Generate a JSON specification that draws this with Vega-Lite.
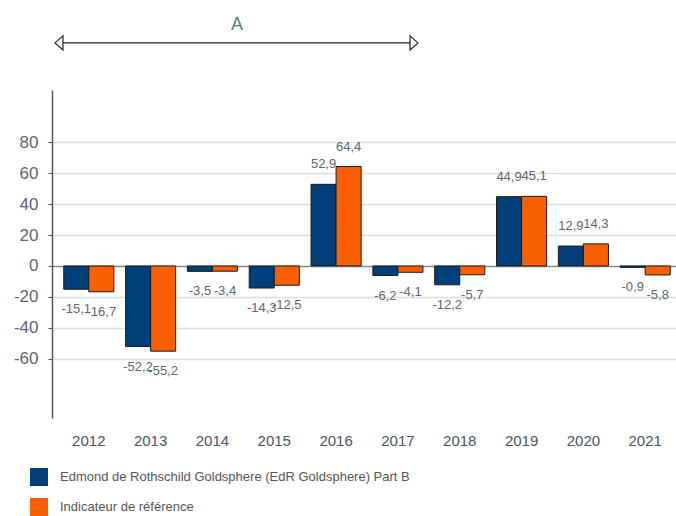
{
  "$schema": "https://vega.github.io/schema/vega-lite/v6.json",
  "width": 630,
  "height": 328,
  "autosize": {"type": "none"},
  "padding": {"left": 52, "top": 90, "right": 0, "bottom": 98},
  "background": "white",
  "config": {
    "view": {"stroke": null},
    "locale": {"number": {"decimal": ",", "thousands": " ", "grouping": [3], "currency": ["", " €"], "minus": "-"}},
    "font": "Liberation Sans"
  },
  "layer": [
    {
      "data": {"values": [
        {"year": "2012", "series": "Edmond de Rothschild Goldsphere (EdR Goldsphere) Part B", "value": -15.1},
        {"year": "2012", "series": "Indicateur de référence", "value": -16.7},
        {"year": "2013", "series": "Edmond de Rothschild Goldsphere (EdR Goldsphere) Part B", "value": -52.2},
        {"year": "2013", "series": "Indicateur de référence", "value": -55.2},
        {"year": "2014", "series": "Edmond de Rothschild Goldsphere (EdR Goldsphere) Part B", "value": -3.5},
        {"year": "2014", "series": "Indicateur de référence", "value": -3.4},
        {"year": "2015", "series": "Edmond de Rothschild Goldsphere (EdR Goldsphere) Part B", "value": -14.3},
        {"year": "2015", "series": "Indicateur de référence", "value": -12.5},
        {"year": "2016", "series": "Edmond de Rothschild Goldsphere (EdR Goldsphere) Part B", "value": 52.9},
        {"year": "2016", "series": "Indicateur de référence", "value": 64.4},
        {"year": "2017", "series": "Edmond de Rothschild Goldsphere (EdR Goldsphere) Part B", "value": -6.2},
        {"year": "2017", "series": "Indicateur de référence", "value": -4.1},
        {"year": "2018", "series": "Edmond de Rothschild Goldsphere (EdR Goldsphere) Part B", "value": -12.2},
        {"year": "2018", "series": "Indicateur de référence", "value": -5.7},
        {"year": "2019", "series": "Edmond de Rothschild Goldsphere (EdR Goldsphere) Part B", "value": 44.9},
        {"year": "2019", "series": "Indicateur de référence", "value": 45.1},
        {"year": "2020", "series": "Edmond de Rothschild Goldsphere (EdR Goldsphere) Part B", "value": 12.9},
        {"year": "2020", "series": "Indicateur de référence", "value": 14.3},
        {"year": "2021", "series": "Edmond de Rothschild Goldsphere (EdR Goldsphere) Part B", "value": -0.9},
        {"year": "2021", "series": "Indicateur de référence", "value": -5.8}
      ]},
      "encoding": {
        "x": {
          "field": "year", "type": "nominal",
          "scale": {"paddingInner": 0.19, "paddingOuter": 0.19},
          "axis": {
            "title": null, "labelAngle": 0, "domain": false, "ticks": false, "grid": false,
            "labelFontSize": 15, "labelColor": "#4a5563",
            "labelPadding": 15
          }
        },
        "xOffset": {"field": "series", "type": "nominal"},
        "y": {
          "field": "value", "type": "quantitative",
          "scale": {"domain": [-98.5, 114], "nice": false, "zero": true},
          "axis": {
            "title": null, "values": [-60, -40, -20, 0, 20, 40, 60, 80],
            "domainColor": "#555", "domainWidth": 1.5,
            "tickSize": 4, "tickColor": "#555", "tickWidth": 1,
            "labelFontSize": 17, "labelColor": "#5b6670", "labelPadding": 10,
            "gridColor": {"condition": {"test": "datum.value === 0", "value": "#888"}, "value": "#dddddd"},
            "gridWidth": 1.5
          }
        }
      },
      "layer": [
        {
          "mark": {"type": "bar", "stroke": "#1a1a1a", "strokeWidth": 1},
          "encoding": {
            "color": {
              "field": "series", "type": "nominal",
              "scale": {"range": ["#013f7a", "#fa6000"]},
              "legend": {
                "title": null, "orient": "none", "legendX": -22, "legendY": 378,
                "symbolType": "square", "symbolSize": 324, "symbolStrokeWidth": 0,
                "labelFontSize": 13, "labelColor": "#555",
                "labelOffset": 12, "rowPadding": 12, "labelLimit": 600
              }
            }
          }
        },
        {
          "transform": [{"filter": "datum.value >= 0"}],
          "mark": {"type": "text", "dy": -20, "baseline": "middle", "fontSize": 13, "color": "#5b6670"},
          "encoding": {"text": {"field": "value", "type": "quantitative", "format": ".1f"}}
        },
        {
          "transform": [{"filter": "datum.value < 0"}],
          "mark": {"type": "text", "dy": 20, "baseline": "middle", "fontSize": 13, "color": "#5b6670"},
          "encoding": {"text": {"field": "value", "type": "quantitative", "format": ".1f"}}
        }
      ]
    },
    {
      "data": {"values": [
        {"kind": "line", "xs": 2011.519, "xe": 2017.264, "y": 144.5},
        {"kind": "left", "xs": 2011.519, "y": 144.5},
        {"kind": "right", "xs": 2017.264, "y": 144.5},
        {"kind": "label", "xs": 2014.40, "y": 156, "text": "A"}
      ]},
      "encoding": {
        "x": {"field": "xs", "type": "quantitative", "scale": {"domain": [2011.406, 2021.6], "nice": false, "zero": false}, "axis": null},
        "y": {"field": "y", "type": "quantitative", "scale": {"domain": [-98.5, 114], "nice": false, "zero": true}}
      },
      "layer": [
        {
          "transform": [{"filter": "datum.kind === 'line'"}],
          "mark": {"type": "rule", "stroke": "#222", "strokeWidth": 1.2},
          "encoding": {"x2": {"field": "xe"}}
        },
        {
          "transform": [{"filter": "datum.kind === 'left'"}],
          "mark": {"type": "point", "shape": "M 0.57 -1 L -0.57 0 L 0.57 1 Z", "size": 196, "filled": false, "fill": "white", "stroke": "#222", "strokeWidth": 1.2, "opacity": 1}
        },
        {
          "transform": [{"filter": "datum.kind === 'right'"}],
          "mark": {"type": "point", "shape": "M -0.57 -1 L 0.57 0 L -0.57 1 Z", "size": 196, "filled": false, "fill": "white", "stroke": "#222", "strokeWidth": 1.2, "opacity": 1}
        },
        {
          "transform": [{"filter": "datum.kind === 'label'"}],
          "mark": {"type": "text", "fontSize": 18, "color": "#5a7a78", "baseline": "middle"},
          "encoding": {"text": {"field": "text"}}
        }
      ]
    }
  ],
  "resolve": {"scale": {"x": "independent"}}
}
